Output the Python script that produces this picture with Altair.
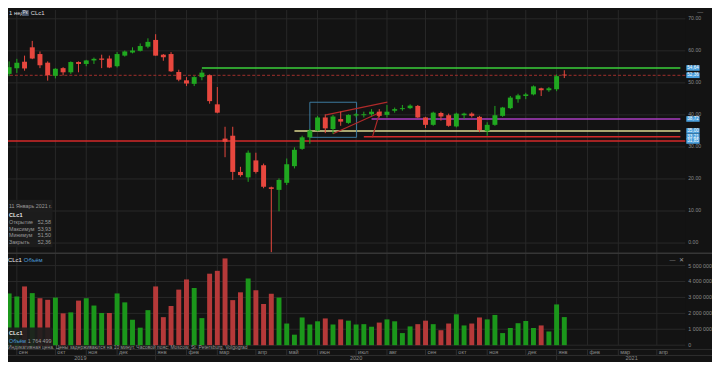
import altair as alt
import pandas as pd

# ---------------- data (weekly CLc1) ----------------
week_start = pd.date_range("2019-08-26", periods=73, freq="7D")
opens = [52.8, 54.6, 56.6, 61.1, 59.0, 56.3, 52.2, 54.6, 53.3, 56.5,
         55.9, 57.0, 57.6, 57.6, 55.2, 58.5, 59.5, 60.0, 61.3, 63.4,
         58.8, 59.0, 53.4, 50.8, 49.7, 51.8, 52.4, 43.3, 32.6, 33.5,
         22.2, 20.5, 25.8, 24.3, 17.4, 16.6, 18.8, 24.0, 29.4, 33.0,
         35.1, 39.2, 35.6, 38.7, 37.5, 39.8, 39.9, 40.2, 41.0, 40.0,
         41.3, 41.8, 42.1, 42.8, 39.2, 36.9, 40.6, 39.9, 36.4, 39.9,
         40.4, 39.4, 34.9, 36.9, 39.7, 42.1, 44.9, 45.9, 46.4, 48.3,
         47.7, 48.0, 52.58]
highs = [56.7, 57.5, 58.5, 63.1, 59.8, 56.7, 54.6, 54.9, 56.7, 56.7,
         57.2, 57.9, 58.8, 58.5, 59.6, 60.1, 61.1, 62.3, 63.9, 65.2,
         59.0, 59.6, 54.1, 51.8, 52.1, 54.1, 52.6, 48.7, 36.3, 36.3,
         23.8, 28.9, 28.2, 24.8, 17.6, 20.2, 26.4, 29.9, 33.5, 35.6,
         39.7, 40.2, 40.0, 41.0, 40.2, 40.6, 41.0, 41.8, 41.8, 43.1,
         42.3, 43.1, 43.3, 43.1, 39.4, 41.0, 41.0, 40.4, 40.7, 40.7,
         40.8, 39.7, 37.7, 42.8, 42.5, 45.9, 46.6, 46.9, 49.2, 48.5,
         48.7, 52.6, 53.93]
lows = [52.1, 53.1, 53.8, 57.4, 54.6, 50.7, 51.4, 52.3, 52.8, 53.3,
        55.2, 55.9, 54.6, 54.6, 54.8, 58.2, 59.2, 59.8, 60.8, 58.5,
        56.9, 53.4, 50.5, 49.0, 49.0, 50.8, 43.5, 40.5, 26.8, 19.7,
        20.7, 19.1, 21.7, 17.1, -40.3, 9.9, 18.1, 23.3, 29.1, 31.0,
        34.9, 34.3, 34.1, 36.6, 37.2, 39.2, 39.2, 39.7, 39.2, 39.2,
        40.7, 41.3, 41.8, 39.0, 35.9, 36.6, 38.2, 36.3, 36.1, 38.7,
        39.2, 34.6, 33.5, 36.6, 39.4, 41.8, 43.8, 44.9, 46.1, 45.9,
        47.2, 47.4, 51.50]
closes = [54.9, 56.3, 54.5, 57.6, 55.5, 52.4, 54.4, 53.3, 56.5, 55.9,
          57.0, 57.5, 57.2, 54.8, 59.0, 59.8, 60.1, 61.5, 62.8, 58.5,
          58.0, 53.6, 51.0, 49.8, 51.8, 53.2, 44.3, 40.7, 31.6, 22.2,
          21.2, 28.2, 22.2, 17.6, 16.9, 19.7, 24.6, 29.1, 33.0, 35.1,
          39.2, 35.8, 39.5, 37.9, 40.0, 40.2, 40.2, 41.0, 39.7, 41.0,
          41.8, 42.1, 42.9, 39.2, 36.9, 40.7, 39.5, 36.6, 40.4, 40.4,
          39.7, 35.3, 36.9, 39.9, 42.3, 45.4, 46.1, 46.4, 48.9, 47.7,
          48.3, 52.1, 52.36]
volumes_m = [3.25, 3.05, 3.69, 3.27, 2.95, 2.85, 2.99, 2.00, 2.06, 2.80,
             2.95, 2.49, 2.02, 2.02, 3.25, 2.69, 1.60, 1.10, 2.20, 3.69,
             1.76, 2.46, 3.49, 4.13, 3.59, 1.70, 4.49, 4.67, 5.45, 2.83,
             3.32, 4.19, 3.45, 2.59, 3.23, 2.99, 1.36, 0.66, 1.74, 1.30,
             1.50, 1.68, 1.30, 1.62, 1.54, 1.30, 1.32, 1.16, 1.42, 1.62,
             1.50, 0.76, 1.18, 1.32, 1.54, 1.32, 0.94, 1.36, 1.94, 1.24,
             1.36, 1.74, 1.62, 1.90, 0.76, 1.08, 1.38, 1.52, 1.08, 1.24,
             0.86, 2.56, 1.764499]
vol_dir = list("GGRGRRGRGR" "GGGRGGGGGR" "RRRRGGRRRR" "RGRRRGGGGG" "GRGRGGGGRG"
               "GGGRRGRRGG" "RRGGGGGGGR" "GGG")

# horizontal levels drawn on the chart
level_vals = [54.64, 38.72, 35.00, 33.21]
level_start = [25, 47, 37, 46]
full_red_level = 31.85
last_price = 52.36
box_vals = [54.64, 52.36, 38.72, 35.00, 33.21, 31.85]

# drawn objects: blue box and red channel lines (week index / price)
rect_x = [39.0, 45.06]
rect_v = [33.0, 43.95]
tl_x0 = [41.1, 42.0, 47.1]
tl_y0 = [40.0, 34.1, 33.0]
tl_x1 = [49.05, 48.3, 48.05]
tl_y1 = [44.0, 41.0, 40.7]

price_ticks = [0, 10, 20, 30, 40, 50, 60, 70]
vol_ticks = [0, 1e6, 2e6, 3e6, 4e6, 5e6]
month_names = ["сен", "окт", "ноя", "дек", "янв", "фев", "мар", "апр", "май", "июн",
               "июл", "авг", "сен", "окт", "ноя", "дек", "янв", "фев", "мар", "апр"]
month_idx = [1, 6, 10, 14, 19, 23, 27, 32, 36, 40, 45, 49, 54, 58, 62, 67, 71, 75, 79, 84]
year_names = ["2019", "2020", "2021"]
year_bounds = [-0.52, 19, 71, 90.45]

# ---------------- styling ----------------
FONT = "Liberation Sans"
BG = "#131313"
GRID = "#282828"
UP, DOWN = "#20a820", "#e8473e"
VUP, VDOWN = "#1b971b", "#b53939"
LEVEL_COLORS = ["#3ad03a", "#a83cc0", "#dcd890", "#d42a2a"]
W, H = 685, 339
X_DOM = [0.4946, 87.05]

n = len(opens)
df = pd.DataFrame({
    "i": list(range(n)), "date": week_start.strftime("%Y-%m-%d"),
    "o": opens, "h": highs, "l": lows, "c": closes,
    "vol": [v * 1e6 for v in volumes_m],
    "vdir": ["up" if d == "G" else "down" for d in vol_dir],
})

xs = alt.Scale(domain=X_DOM, nice=False, zero=False)
ps = alt.Scale(domain=[-2.87, 72.75], range=[245, 0], nice=False, zero=False, clamp=True)
vs = alt.Scale(domain=[0, 5.714e6], range=[339, 247], nice=False, zero=False)

dummy = pd.DataFrame({"a": [0]})


def txt(text, x, y, size=6.0, color="#9a9a9a", align="left", weight="normal"):
    return alt.Chart(dummy).mark_text(
        text=text, align=align, baseline="middle", fontSize=size, color=color,
        font=FONT, fontWeight=weight
    ).encode(x=alt.value(x), y=alt.value(y))


def hrule(y, color, x1=0, x2=712, width=1.0):
    return alt.Chart(dummy).mark_rule(color=color, strokeWidth=width).encode(
        x=alt.value(x1), x2=alt.value(x2), y=alt.value(y))


# ---------------- vertical grid ----------------
months_df = pd.DataFrame({"i": month_idx, "m": month_names})
vgrid = alt.Chart(months_df).mark_rule(color=GRID).encode(x=alt.X("i:Q", scale=xs, axis=None))

# ---------------- price panel ----------------
pgrid = alt.Chart(pd.DataFrame({"v": price_ticks})).mark_rule(color=GRID).encode(
    y=alt.Y("v:Q", scale=ps, axis=None))
full_red = alt.Chart(pd.DataFrame({"v": [full_red_level]})).mark_rule(
    color="#d42a2a", strokeWidth=1.6).encode(y=alt.Y("v:Q", scale=ps, axis=None))
dashed = alt.Chart(pd.DataFrame({"v": [last_price]})).mark_rule(
    color="#a0302c", strokeDash=[3, 2], strokeWidth=1).encode(y=alt.Y("v:Q", scale=ps, axis=None))
level_layers = []
for v, s, col in zip(level_vals, level_start, LEVEL_COLORS):
    level_layers.append(
        alt.Chart(pd.DataFrame({"v": [v], "start": [s], "end": [X_DOM[1]]})).mark_rule(
            strokeWidth=1.5, color=col).encode(
            x=alt.X("start:Q", scale=xs, axis=None), x2="end:Q",
            y=alt.Y("v:Q", scale=ps, axis=None)))
box = alt.Chart(pd.DataFrame({"x0": [rect_x[0]], "x1": [rect_x[1]], "v0": [rect_v[0]], "v1": [rect_v[1]]})
                ).mark_rect(fillOpacity=0, stroke="#3d7aa0", strokeWidth=1).encode(
    x=alt.X("x0:Q", scale=xs, axis=None), x2="x1:Q",
    y=alt.Y("v0:Q", scale=ps, axis=None), y2="v1:Q")
trend = alt.Chart(pd.DataFrame({"x0": tl_x0, "y0": tl_y0, "x1": tl_x1, "y1": tl_y1})).mark_rule(
    color="#b02a2a", strokeWidth=1.2).encode(
    x=alt.X("x0:Q", scale=xs, axis=None), x2="x1:Q",
    y=alt.Y("y0:Q", scale=ps, axis=None), y2="y1:Q")

candles = alt.Chart(df).transform_calculate(
    col=f"datum.c >= datum.o ? '{UP}' : '{DOWN}'")
wicks = candles.mark_rule(strokeWidth=1).encode(
    x=alt.X("i:Q", scale=xs, axis=None),
    y=alt.Y("l:Q", scale=ps, axis=None), y2="h:Q", color=alt.Color("col:N", scale=None))
bodies = candles.mark_bar(size=5).encode(
    x=alt.X("i:Q", scale=xs, axis=None),
    y=alt.Y("o:Q", scale=ps, axis=None), y2="c:Q", color=alt.Color("col:N", scale=None))
plabels = alt.Chart(pd.DataFrame({"v": price_ticks, "t": [f"{v:.2f}" for v in price_ticks]})).mark_text(
    align="left", baseline="middle", fontSize=5.2, dy=-1.2, color="#8a8a8a", font=FONT).encode(
    x=alt.value(688), y=alt.Y("v:Q", scale=ps, axis=None), text="t:N")
bx = pd.DataFrame({"v": box_vals, "t": [f"{v:.2f}".replace(".", ",") for v in box_vals]})
boxes = alt.Chart(bx).mark_rect(color="#4a9fdc", yOffset=-2.8, y2Offset=2.8).encode(
    x=alt.value(686), x2=alt.value(699.5), y=alt.Y("v:Q", scale=ps, axis=None), y2="v:Q")
boxtext = alt.Chart(bx).mark_text(align="center", baseline="middle", fontSize=4.6, color="white",
                                  font=FONT).encode(
    x=alt.value(692.8), y=alt.Y("v:Q", scale=ps, axis=None), text="t:N")

price = alt.layer(pgrid, full_red, dashed, *level_layers, box, trend, wicks, bodies,
                  plabels, boxes, boxtext)

# ---------------- volume panel ----------------
vgrid_h = alt.Chart(pd.DataFrame({"v": vol_ticks})).mark_rule(color=GRID).encode(
    y=alt.Y("v:Q", scale=vs, axis=None))
vbars = alt.Chart(df).transform_calculate(
    col=f"datum.vdir == 'up' ? '{VUP}' : '{VDOWN}'").mark_bar(size=5).encode(
    x=alt.X("i:Q", scale=xs, axis=None),
    y=alt.Y("vol:Q", scale=vs, axis=None), color=alt.Color("col:N", scale=None))
vlabels = alt.Chart(pd.DataFrame({"v": vol_ticks,
                                  "t": [f"{int(v):,}".replace(",", " ") for v in vol_ticks]})).mark_text(
    align="left", baseline="middle", fontSize=5.4, color="#8a8a8a", font=FONT).encode(
    x=alt.value(688), y=alt.Y("v:Q", scale=vs, axis=None), text="t:N")
volume = alt.layer(vgrid_h, vbars, vlabels)

# ---------------- time axis band ----------------
band_top, band_mid, band_bot = 343.3, 349.4, 354
sep_month = alt.Chart(months_df).mark_rule(color="#2e2e2e").encode(
    x=alt.X("i:Q", scale=xs, axis=None), y=alt.value(band_top), y2=alt.value(band_mid))
jan_df = months_df[months_df["m"] == "янв"]
sep_year = alt.Chart(jan_df).mark_rule(color="#2e2e2e").encode(
    x=alt.X("i:Q", scale=xs, axis=None), y=alt.value(band_mid), y2=alt.value(band_bot))
mlabels = alt.Chart(months_df).mark_text(align="left", baseline="middle", dx=2, fontSize=5.6,
                                         color="#8c8c8c", font=FONT).encode(
    x=alt.X("i:Q", scale=xs, axis=None), y=alt.value(346.4), text="m:N")
yr = pd.DataFrame({"y": year_names,
                   "c": [(year_bounds[k] + year_bounds[k + 1]) / 2 for k in range(3)]})
ylabels = alt.Chart(yr).mark_text(align="center", baseline="middle", fontSize=5.6,
                                  color="#8c8c8c", font=FONT).encode(
    x=alt.X("c:Q", scale=xs, axis=None), y=alt.value(351.8), text="y:N")

# ---------------- overlays ----------------
last = df.iloc[-1]
fmt = lambda v: f"{v:.2f}".replace(".", ",")
vol_txt = f"{int(round(last['vol'])):,}".replace(",", " ")
legend_bg = alt.Chart(dummy).mark_rect(color="#1d1d1d", opacity=0.92).encode(
    x=alt.value(0), x2=alt.value(45), y=alt.value(192), y2=alt.value(240))
vol_bg = alt.Chart(dummy).mark_rect(color="#1d1d1d", opacity=0.92).encode(
    x=alt.value(0), x2=alt.value(45), y=alt.value(321), y2=alt.value(339))
title_icon = alt.Chart(dummy).mark_rect(color="#4d5a70").encode(
    x=alt.value(14), x2=alt.value(21), y=alt.value(0), y2=alt.value(6))

overlay = alt.layer(
    hrule(246, "#363636", width=1.5),
    hrule(band_top, "#2e2e2e"), hrule(band_mid, "#2e2e2e"),
    sep_month, sep_year, mlabels, ylabels,
    txt("1 нед", 1, 3, 6, "#dddddd"), title_icon, txt("Рк", 17.5, 3, 4.5, "#dddddd", "center"),
    txt("CLc1", 23, 3, 6, "#dddddd"),
    txt("—", 697, 2, 6, "#9a9a9a"),
    legend_bg,
    txt("11 Январь 2021 г.", 1, 198, 5.4, "#9a9a9a"),
    txt("CLc1", 1, 207, 5.6, "#e6e6e6", weight="bold"),
    txt("Открытие", 1, 214.7, 5.4), txt(fmt(last["o"]), 30, 214.7, 5.4),
    txt("Максимум", 1, 221.3, 5.4), txt(fmt(last["h"]), 30, 221.3, 5.4),
    txt("Минимум", 1, 228, 5.4), txt(fmt(last["l"]), 30, 228, 5.4),
    txt("Закрыть", 1, 234.7, 5.4), txt(fmt(last["c"]), 30, 234.7, 5.4),
    txt("CLc1", 0, 252.7, 6, "#e6e6e6"), txt("Объём", 16, 252.7, 6, "#4a9fdc"),
    txt("—", 669, 253, 6, "#9a9a9a"), txt("✕", 679, 253, 6, "#9a9a9a"),
    vol_bg,
    txt("CLc1", 1, 326.5, 5.6, "#e6e6e6", weight="bold"),
    txt("Объём", 1, 334.5, 5.4, "#4a9fdc"), txt(vol_txt, 20, 334.5, 5.4, "#9a9a9a"),
    txt("Индикативная цена. Цены задерживаются на 10 минут.   Часовой пояс: Moscow, St. Petersburg, Volgograd",
        0, 341.2, 5.0, "#9a9a9a"),
)

chart = alt.layer(vgrid, price, volume, overlay).resolve_scale(y="independent").properties(
    width=W, height=H,
    autosize=alt.AutoSizeParams(type="none"),
    padding={"left": 0, "top": 0, "right": 27, "bottom": 15},
).configure(background=BG).configure_view(stroke=None, fill=BG)

chart.save("out.html", embed_options={"renderer": "svg", "actions": False})
